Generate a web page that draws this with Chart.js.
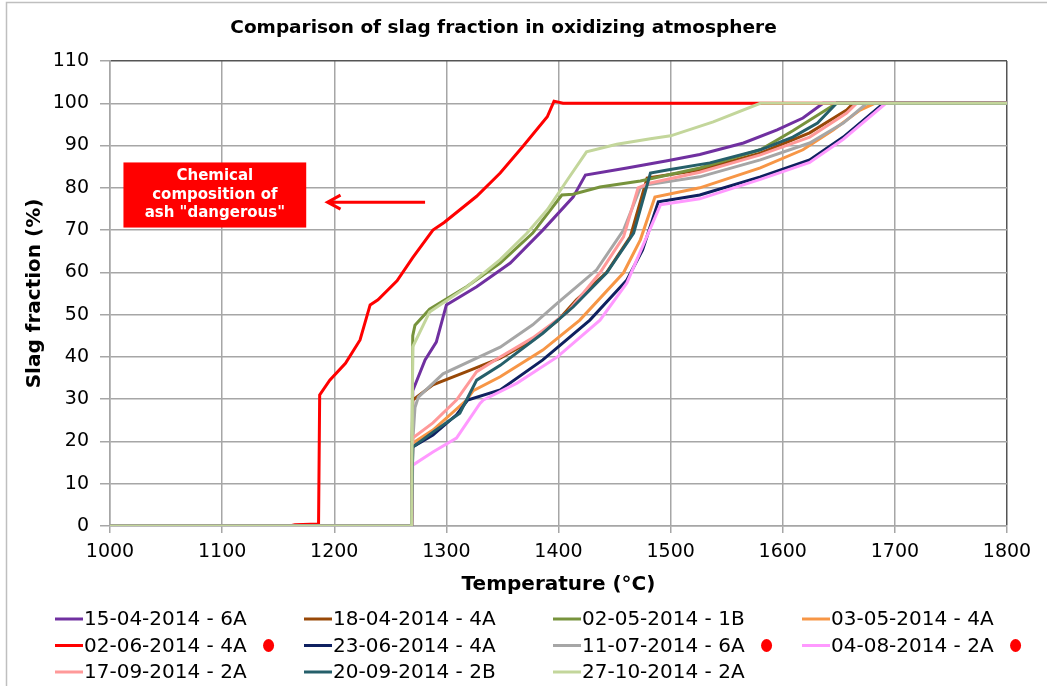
<!DOCTYPE html>
<html>
<head>
<meta charset="utf-8">
<title>Comparison of slag fraction in oxidizing atmosphere</title>
<script src="https://cdn.jsdelivr.net/npm/chart.js@4.4.1/dist/chart.umd.min.js"></script>
<style>
  body { margin: 0; background: #fff; }
  canvas { display: block; }
</style>
</head>
<body>
<canvas id="slagChart" width="1047" height="686"></canvas>
<script>
// axis ticks
var tempTicks = [1000, 1100, 1200, 1300, 1400, 1500, 1600, 1700, 1800];
var slagTicks = [0, 10, 20, 30, 40, 50, 60, 70, 80, 90, 100, 110];

// legend labels and line colours, in legend order
var seriesNames = ['15-04-2014 - 6A', '18-04-2014 - 4A', '02-05-2014 - 1B', '03-05-2014 - 4A',
                   '02-06-2014 - 4A', '23-06-2014 - 4A', '11-07-2014 - 6A', '04-08-2014 - 2A',
                   '17-09-2014 - 2A', '20-09-2014 - 2B', '27-10-2014 - 2A'];
var seriesColors = ['#7030a0', '#984807', '#77933c', '#f79646',
                    '#ff0000', '#0f2060', '#a6a6a6', '#ff99ff',
                    '#ff9999', '#255f6a', '#c3d69b'];
// samples marked with a red dot in the legend
var flagged = ['02-06-2014 - 4A', '11-07-2014 - 6A', '04-08-2014 - 2A'];

// [temperature °C, slag fraction %]
var s150414 = [[1000,0],[1269,0],[1270,32],[1281,39.3],[1291,43.5],[1300,52.3],[1327,56.6],[1357,62.2],[1386,70],[1413,77.8],[1424,83],[1461,84.7],[1497,86.4],[1526,87.9],[1565,90.6],[1595,93.7],[1618,96.5],[1636,100],[1800,100]];
var s180414 = [[1000,0],[1269,0],[1270,29.8],[1288,33.4],[1318,36.5],[1348,39.7],[1377,44],[1399,48.5],[1416,53.5],[1443,60],[1464,68.4],[1479,82.3],[1526,84.2],[1580,88.2],[1624,93],[1657,98.4],[1663,100],[1800,100]];
var s020514 = [[1000,0],[1269,0],[1270,45],[1272,47.5],[1285,51.3],[1318,56.6],[1348,62.2],[1377,69.3],[1403,78.3],[1413,78.5],[1437,80.2],[1473,81.6],[1526,84.7],[1580,89],[1609,93.5],[1648,100],[1800,100]];
var s030514 = [[1000,0],[1269,0],[1270,19.6],[1288,22.7],[1318,29.8],[1324,32],[1348,35.3],[1386,41.6],[1419,48.7],[1458,59.9],[1473,67.7],[1486,77.8],[1526,80],[1580,84.7],[1618,89],[1645,93.7],[1669,98.4],[1682,100],[1800,100]];
var s020614 = [[1000,0],[1160,0],[1165,0.3],[1186,0.5],[1187,31],[1196,34.5],[1210,38.5],[1223,44],[1232,52.3],[1239,53.5],[1256,58],[1270,63.5],[1288,70],[1298,71.8],[1327,78],[1348,83.5],[1368,89.7],[1390,96.8],[1396,100.5],[1404,100],[1800,100]];
var s230614 = [[1000,0],[1269,0],[1270,18.7],[1288,21.5],[1309,26.3],[1319,29.8],[1348,32.2],[1386,39.3],[1428,48.7],[1461,58.2],[1475,65.3],[1489,76.7],[1526,78.3],[1580,82.6],[1624,86.6],[1654,92],[1690,100],[1800,100]];
var s110714 = [[1000,0],[1269,0],[1270,20],[1272,28],[1275,30.5],[1297,36],[1327,39.7],[1348,42.3],[1377,47.6],[1399,52.7],[1434,60.6],[1458,70],[1473,80],[1479,80.7],[1526,82.6],[1580,86.6],[1624,90.6],[1654,95.3],[1675,100],[1800,100]];
var s040814 = [[1000,0],[1269,0],[1270,14.4],[1288,17.5],[1309,20.8],[1330,29],[1333,29.8],[1363,33.8],[1399,40],[1437,48.7],[1461,57.5],[1491,76],[1526,77.4],[1580,82],[1624,86],[1654,91.5],[1692,100],[1800,100]];
var s170914 = [[1000,0],[1269,0],[1270,20.8],[1288,24.4],[1309,29.8],[1327,36.5],[1348,40],[1377,44.5],[1408,50.6],[1437,59.9],[1458,68.4],[1471,80],[1481,81.1],[1526,83.7],[1580,87.8],[1624,92],[1657,97.7],[1666,100],[1800,100]];
var s200914 = [[1000,0],[1269,0],[1270,18.7],[1288,22.2],[1312,26.7],[1327,34.5],[1348,38],[1386,45.6],[1413,51.8],[1443,59.9],[1467,69.3],[1482,83.5],[1497,84.2],[1535,85.9],[1580,89],[1609,92],[1631,95.3],[1648,100],[1800,100]];
var s271014 = [[1000,0],[1269,0],[1270,42.4],[1285,50.6],[1318,56.5],[1348,63],[1372,69.3],[1390,74.8],[1408,81.9],[1425,88.5],[1452,90.3],[1482,91.6],[1500,92.3],[1538,95.6],[1580,100],[1800,100]];

var seriesData = [s150414, s180414, s020514, s030514, s020614, s230614,
                  s110714, s040814, s170914, s200914, s271014];

var FONT = '"DejaVu Sans", Verdana, sans-serif';

// red note box with arrow, placed in data units
var notePlugin = {
  id: 'note',
  afterDatasetsDraw: function(chart) {
    var x = chart.scales.x, y = chart.scales.y, ctx = chart.ctx;
    var l = x.getPixelForValue(1012), r = x.getPixelForValue(1175);
    var t = y.getPixelForValue(86), b = y.getPixelForValue(70.6);
    ctx.save();
    ctx.fillStyle = '#ff0000';
    ctx.fillRect(l, t, r - l, b - t);
    ctx.fillStyle = '#fff';
    ctx.font = 'bold 15px ' + FONT;
    ctx.textAlign = 'center';
    ctx.textBaseline = 'middle';
    var cx = (l + r) / 2, cy = (t + b) / 2;
    ctx.fillText('Chemical', cx, cy - 18.5);
    ctx.fillText('composition of', cx, cy);
    ctx.fillText('ash "dangerous"', cx, cy + 18.5);
    // arrow
    var ay = y.getPixelForValue(76.6);
    var a0 = x.getPixelForValue(1281), a1 = x.getPixelForValue(1194);
    ctx.strokeStyle = '#ff0000';
    ctx.lineWidth = 3;
    ctx.beginPath();
    ctx.moveTo(a0, ay); ctx.lineTo(a1, ay);
    ctx.moveTo(a1 + 13, ay - 7); ctx.lineTo(a1, ay); ctx.lineTo(a1 + 13, ay + 7);
    ctx.stroke();
    ctx.restore();
  }
};

// legend in a 4 column grid under the x title
var legendPlugin = {
  id: 'gridLegend',
  afterDraw: function(chart) {
    var ctx = chart.ctx;
    ctx.save();
    ctx.font = '20px ' + FONT;
    ctx.textBaseline = 'middle';
    chart.data.datasets.forEach(function(ds, i) {
      var col = i % 4, row = Math.floor(i / 4);
      var x = 55 + col * 249, y = 619 + row * 26.5;
      ctx.strokeStyle = ds.borderColor;
      ctx.lineWidth = 3;
      ctx.beginPath(); ctx.moveTo(x, y); ctx.lineTo(x + 28, y); ctx.stroke();
      ctx.fillStyle = '#000';
      ctx.fillText(ds.label, x + 29, y + 1);
      if (flagged.indexOf(ds.label) >= 0) {
        var w = ctx.measureText(ds.label).width;
        ctx.fillStyle = '#ff0000';
        ctx.beginPath();
        ctx.ellipse(x + 29 + w + 22, y, 5.5, 6.5, 0, 0, Math.PI * 2);
        ctx.fill();
      }
    });
    // outer frame of the chart object
    ctx.strokeStyle = '#bfbfbf';
    ctx.lineWidth = 1.5;
    ctx.strokeRect(6.5, 2.5, 1200, 900);
    ctx.restore();
  }
};

var datasets = seriesNames.map(function(name, i) {
  return {
    label: name,
    data: seriesData[i].map(function(p) { return { x: p[0], y: p[1] }; }),
    borderColor: seriesColors[i],
    backgroundColor: seriesColors[i],
    borderWidth: 3,
    pointRadius: 0,
    tension: 0,
    fill: false,
    order: seriesNames.length - 1 - i   // later series on top, like the original
  };
});

var ctx = document.getElementById('slagChart');
new Chart(ctx, {
  type: 'line',
  data: { datasets: datasets },
  options: {
    responsive: false,
    animation: false,
    devicePixelRatio: 1,
    layout: { padding: { left: 0, right: 40, top: 0, bottom: 89 } },
    plugins: {
      legend: { display: false },
      tooltip: { enabled: false },
      title: {
        display: true,
        text: 'Comparison of slag fraction in oxidizing atmosphere',
        color: '#000',
        font: { family: FONT, size: 18.5, weight: 'bold' },
        padding: { top: 17, bottom: 21.8 }
      }
    },
    scales: {
      x: {
        type: 'linear',
        min: 1000, max: 1800,
        afterBuildTicks: function(s) { s.ticks = tempTicks.map(function(v) { return { value: v }; }); },
        afterFit: function(s) { s.height = 71; },
        ticks: {
          color: '#000', font: { family: FONT, size: 19 }, padding: 8, maxRotation: 0,
          callback: function(v) { return String(v); }
        },
        grid: {
          color: function(c) { return c.tick && c.tick.value === 1800 ? '#555' : '#a6a6a6'; },
          lineWidth: 1.5, tickLength: 7, tickColor: '#a6a6a6'
        },
        border: { color: '#a6a6a6', width: 1.5 },
        title: {
          display: true, text: 'Temperature (°C)', color: '#000',
          font: { family: FONT, size: 20, weight: 'bold' },
          padding: { top: 0, bottom: 0 }
        }
      },
      y: {
        type: 'linear',
        min: 0, max: 110,
        afterBuildTicks: function(s) { s.ticks = slagTicks.map(function(v) { return { value: v }; }); },
        afterFit: function(s) { s.width = 110; },
        ticks: {
          color: '#000', font: { family: FONT, size: 19 }, padding: 11,
          callback: function(v) { return String(v); }
        },
        grid: {
          color: function(c) { return c.tick && c.tick.value === 110 ? '#555' : '#a6a6a6'; },
          lineWidth: 1.5, tickLength: 10, tickColor: '#a6a6a6'
        },
        border: { color: '#a6a6a6', width: 1.5 },
        title: {
          display: true, text: 'Slag fraction (%)', color: '#000',
          font: { family: FONT, size: 20, weight: 'bold' },
          padding: { top: 23, bottom: 0 }
        }
      }
    }
  },
  plugins: [notePlugin, legendPlugin]
});
</script>
</body>
</html>
